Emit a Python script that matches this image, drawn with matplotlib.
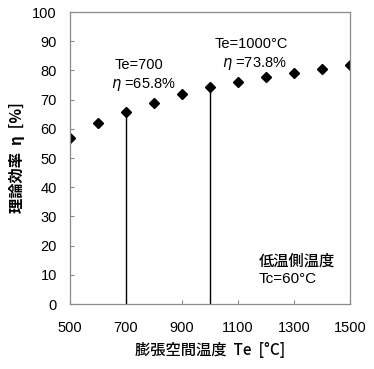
import matplotlib
matplotlib.use("Agg")
import matplotlib.pyplot as plt

plt.rcParams['font.family'] = ['Liberation Sans', 'Noto Sans CJK JP']

te = [500, 600, 700, 800, 900, 1000, 1100, 1200, 1300, 1400, 1500]
eta = [57.0, 62.0, 65.8, 69.0, 71.8, 74.2, 76.0, 77.8, 79.2, 80.6, 81.8]
mark_te = [700, 1000]
mark_eta = [65.8, 74.2]
xticks = [500, 700, 900, 1100, 1300, 1500]
yticks = list(range(0, 101, 10))

fig = plt.figure(figsize=(3.74, 3.69), dpi=100)
ax = fig.add_axes([70/374, 1-304/369, 280/374, 292/369])

ax.vlines(mark_te, 0, mark_eta, colors='black', linewidth=1.0)
ax.plot(te, eta, linestyle='none', marker='D', markersize=5, color='black')

ax.set_xlim(500, 1500)
ax.set_ylim(0, 100)
ax.set_xticks(xticks)
ax.set_yticks(yticks)
ax.tick_params(axis='both', direction='in', length=3, width=0.8, color='#888888',
               labelsize=10.5, labelcolor='black')
ax.tick_params(axis='x', pad=12)
ax.tick_params(axis='y', pad=9.5)
for s in ax.spines.values():
    s.set_color('#8a8a8a')
    s.set_linewidth(0.9)

cjk = ['Noto Sans CJK JP', 'Liberation Sans']
ax.set_xlabel('膨張空間温度  Te  [°C]', fontsize=11, labelpad=5, family=cjk, fontweight='medium')
ax.set_ylabel('理論効率  η  [%]', fontsize=11, labelpad=5, family=cjk, fontweight='bold')

ax.text(661, 81.8, 'Te=700', ha='left', va='center', fontsize=10.5)
ax.text(646, 75.3, '$\\eta$ =65.8%', ha='left', va='center', fontsize=10.5)
ax.text(1016, 89.0, 'Te=1000°C', ha='left', va='center', fontsize=10.5)
ax.text(1043, 82.5, '$\\eta$ =73.8%', ha='left', va='center', fontsize=10.5)
ax.text(1175, 14.7, '低温側温度', ha='left', va='center', fontsize=11, family=cjk, fontweight='medium')
ax.text(1175, 8.5, 'Tc=60°C', ha='left', va='center', fontsize=11)

fig.savefig('out.png', dpi=100)
